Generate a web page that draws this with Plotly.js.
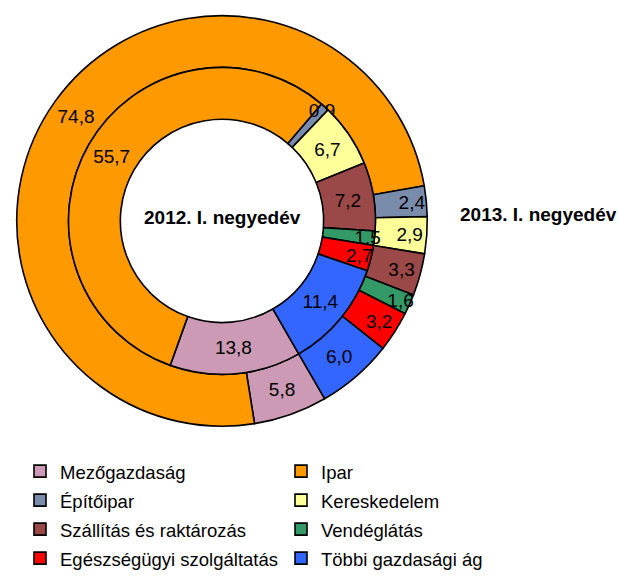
<!DOCTYPE html>
<html>
<head>
<meta charset="utf-8">
<script src="https://cdn.plot.ly/plotly-3.0.1.min.js"></script>
<style>html,body{margin:0;padding:0;background:#fff;}#chart{width:619px;height:578px;}</style>
</head>
<body>
<div id="chart"></div>
<script>
// ---- data ----
var categories = ["Mezőgazdaság", "Ipar", "Építőipar", "Kereskedelem", "Szállítás és raktározás", "Vendéglátás", "Egészségügyi szolgáltatás", "Többi gazdasági ág"];
var values2012 = [13.8, 55.7, 0.9, 6.7, 7.2, 1.5, 2.7, 11.4];
var values2013 = [5.8, 74.8, 2.4, 2.9, 3.3, 1.6, 3.2, 6.0];
var seriesNames = ["2012. I. negyedév", "2013. I. negyedév"];
var colors = ["#cc9ab4", "#ff9900", "#7a8cac", "#ffff99", "#9a4848", "#339966", "#ff0000", "#3366ff"];

// ---- layout geometry ----
var W = 619, H = 578;
var cx = 222, cy = 226;      // donut centre in px
var rOuter = 210, rMid = 157, rHole = 104;
function fmt(v) { return v.toFixed(1).replace('.', ','); }
function domX(r) { return [(cx - r) / W, (cx + r) / W]; }
function domY(r) { return [(H - cy - r) / H, (H - cy + r) / H]; }

var FAMILY = "'Liberation Sans', Arial, sans-serif";
var labelFont = {family: FAMILY, size: 19, color: "#000"};
// legend labels: same categories, drawn a little smaller than the legend row height
var legendLabels = categories.map(function (c) { return '<span style="font-size:18.5px">' + c + '</span>'; });

var outer = {
  type: 'pie', name: seriesNames[1],
  labels: legendLabels, values: values2013,
  text: values2013.map(fmt), textinfo: 'text', textposition: 'inside',
  insidetextorientation: 'horizontal', textfont: labelFont,
  hole: rMid / rOuter, sort: false, direction: 'clockwise', rotation: 150,
  marker: {colors: colors, line: {color: '#000', width: 1.6}},
  domain: {x: domX(rOuter), y: domY(rOuter)},
  hoverinfo: 'label+value'
};
var inner = {
  type: 'pie', name: seriesNames[0],
  labels: legendLabels, values: values2012,
  text: values2012.map(fmt), textinfo: 'text', textposition: 'inside',
  insidetextorientation: 'horizontal', textfont: labelFont,
  hole: rHole / rMid, sort: false, direction: 'clockwise', rotation: 150,
  marker: {colors: colors, line: {color: '#000', width: 1.6}},
  domain: {x: domX(rMid), y: domY(rMid)},
  hoverinfo: 'label+value'
};

var titleFont = {family: FAMILY, size: 19, color: "#000"};

var layout = {
  width: W, height: H,
  margin: {l: 0, r: 0, t: 0, b: 0},
  paper_bgcolor: '#fff',
  showlegend: true,
  uniformtext: {mode: 'show', minsize: 19},
  legend: {
    orientation: 'h', x: 20 / W, y: 1 - 462 / H, xanchor: 'left', yanchor: 'top',
    entrywidth: 216, entrywidthmode: 'pixels', traceorder: 'normal',
    font: {family: FAMILY, size: 20, color: '#000'}
  },
  annotations: [
    {text: '<b>' + seriesNames[0] + '</b>', x: 223 / W, y: 1 - 222 / H, xref: 'paper', yref: 'paper', showarrow: false, xanchor: 'center', yanchor: 'middle', font: titleFont},
    {text: '<b>' + seriesNames[1] + '</b>', x: 538 / W, y: 1 - 219 / H, xref: 'paper', yref: 'paper', showarrow: false, xanchor: 'center', yanchor: 'middle', font: titleFont}
  ]
};

Plotly.newPlot('chart', [outer, inner], layout, {displayModeBar: false, staticPlot: true});
</script>
</body>
</html>
